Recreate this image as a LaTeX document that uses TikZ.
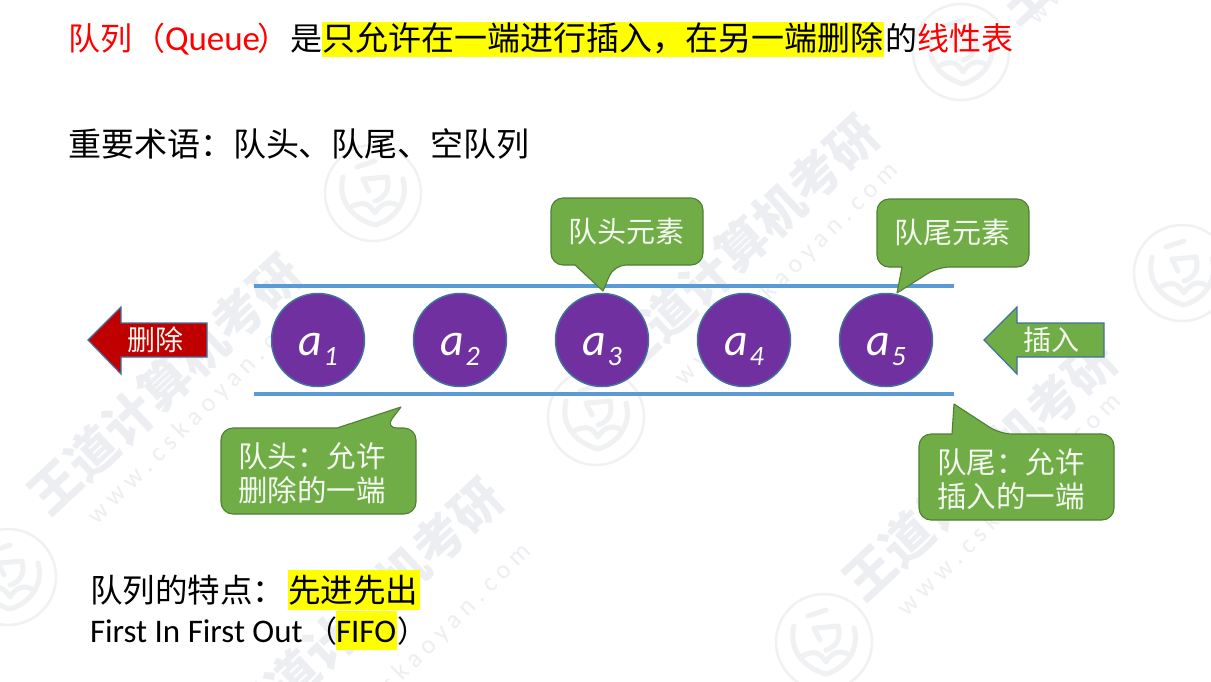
\documentclass[tikz,border=0pt]{standalone}
\usepackage{fontspec}
\setmainfont{Carlito}
\newfontfamily\cjk{Noto Sans CJK SC}
\definecolor{wm}{HTML}{ECEEF1}
\definecolor{wmlight}{HTML}{F0F1F3}
\definecolor{gfill}{HTML}{70AD47}
\definecolor{gline}{HTML}{507E32}
\definecolor{pfill}{HTML}{7030A0}
\definecolor{pline}{HTML}{41719C}
\definecolor{lineblue}{HTML}{5B9BD5}
\definecolor{dred}{HTML}{C00000}
\definecolor{hl}{HTML}{FFFF00}
\definecolor{redtxt}{HTML}{FF0000}
\newcommand{\fs}[1]{\fontsize{#1}{#1}\selectfont}
\newcommand{\qelem}[3]{\node[elem] (#1) at (#2,340) {\smash{\itshape\raisebox{-15pt}{\fs{46}a}\,\raisebox{-25pt}{\fs{28}#3}}};}
\newcommand{\wmtext}[3]{\node[wmbold,rotate=43] (#1) at (#2,#3) {\cjk\bfseries 王道计算机考研};}
\newcommand{\wmurl}[3]{\node[wmurlstyle,rotate=45] (#1) at (#2,#3) {w w w . c s k a o y a n . c o m};}
\newcommand{\wmseal}[3]{%
  \node[wmring] (#1) at (#2,#3) {};
  \begin{scope}[shift={(#2,#3)}]
    \draw[wmstroke] (-30,-16) .. controls (-36,8) and (-20,26) .. (2,32) .. controls (22,26) and (36,8) .. (30,-14);
    \draw[wmstroke] (-22,14) .. controls (-10,8) and (-4,10) .. (2,20) .. controls (8,10) and (16,8) .. (24,12);
    \draw[wmstroke] (-16,-26) -- (2,-32) (-10,-14) -- (-4,-2) (-8,-14) -- (14,-16) .. controls (18,-2) and (10,6) .. (2,8);
  \end{scope}}
\newcommand{\calloutshape}[8]{\draw[callout] [rounded corners=12pt] (#5,#3) -- (#1,#3) -- (#1,#4) -- (#2,#4) -- (#2,#3) -- (#6,#3) [sharp corners] -- (#7,#8) -- cycle;}
\tikzset{
  x=1pt,y=-1pt,
  txt/.style={anchor=base west,inner sep=0pt,outer sep=0pt},
  elem/.style={circle,fill=pfill,draw=pline,line width=1.5pt,minimum size=93pt,inner sep=0pt,text=white},
  rail/.style={lineblue,line width=4.5pt},
  callout/.style={fill=gfill,draw=gline,line width=1.1pt,line join=round},
  ctext/.style={txt,text=white!92!gfill},
  wmbold/.style={text=wm,inner sep=0pt,font=\fontsize{50}{50}\selectfont},
  wmurlstyle/.style={text=wm,inner sep=0pt,font=\fontsize{26}{26}\selectfont},
  wmring/.style={circle,draw=wmlight,line width=2.5pt,inner sep=0pt,minimum size=96pt},
  wmstroke/.style={wmlight,line width=5pt,line cap=round,line join=round},
  block/.style={line width=1.2pt,line join=miter},
  hlbox/.style={fill=hl,draw=none},
}
\begin{document}
\begin{tikzpicture}
\useasboundingbox (0,0) rectangle (1211,681);
\fill[white] (0,0) rectangle (1211,681);
% watermark
\wmseal{s1}{373}{193}
\wmseal{s2}{961}{52}
\wmseal{s3}{1182}{273}
\wmseal{s4}{596}{417}
\wmseal{s5}{8}{577}
\wmseal{s6}{824}{642}
\wmtext{w1}{165}{384}
\wmtext{w2}{366}{608}
\wmtext{w3}{742}{245}
\wmtext{w4}{980}{470}
\wmtext{w5}{1133}{-106}
\wmurl{u1}{200}{413}
\wmurl{u2}{420}{655}
\wmurl{u3}{787}{274}
\wmurl{u4}{1010}{505}
\wmurl{u5}{1140}{-87}
% highlights
\fill[hlbox] (322,22) rectangle (884,57);
\fill[hlbox] (288,570) rectangle (420,610);
\fill[hlbox] (336,611) rectangle (397,650);
% title
\node[txt,text=redtxt] (t1) at (68,50) {\cjk\fs{32}队列};
\node[txt,text=redtxt] (t2) at (133,50) {\cjk\fs{32}（};
\node[txt,text=redtxt] (t3) at (165,50) {\fs{35}Queue};
\node[txt,text=redtxt] (t4) at (257,50) {\cjk\fs{32}）};
\node[txt] (t5) at (290,50) {\cjk\fs{32}是};
\node[txt] (t6) at (322,50) {\cjk\fs{33}只允许在一端进行插入，在另一端删除};
\node[txt] (t7) at (885,50) {\cjk\fs{32}的};
\node[txt,text=redtxt] (t8) at (917,50) {\cjk\fs{32}线性表};
\node[txt] (terms) at (68,156) {\cjk\fs{33}重要术语：队头、队尾、空队列};
% rails
\coordinate (r1a) at (254,286); \coordinate (r1b) at (954,286);
\coordinate (r2a) at (254,394); \coordinate (r2b) at (954,394);
\draw[rail] (r1a) -- (r1b);
\draw[rail] (r2a) -- (r2b);
% elements
\qelem{a1}{318}{1}
\qelem{a2}{460}{2}
\qelem{a3}{602}{3}
\qelem{a4}{744}{4}
\qelem{a5}{886}{5}
% arrows
\draw[block,fill=dred,draw=pline] (88,340) -- (121,307) -- (121,323) -- (207,323) -- (207,357) -- (121,357) -- (121,374) -- cycle;
\node[ctext] (del) at (127,350) {\cjk\fs{28}删除};
\draw[block,fill=gfill,draw=pline] (984,340) -- (1017,307) -- (1017,323) -- (1104,323) -- (1104,357) -- (1017,357) -- (1017,374) -- cycle;
\node[ctext] (ins) at (1023,350) {\cjk\fs{28}插入};
% callouts
\calloutshape{551}{703}{265}{198}{575}{614}{603}{291}
\node[ctext] (c1) at (568,242) {\cjk\fs{29}队头元素};
\calloutshape{877}{1029}{267}{199}{902}{938}{897}{293}
\node[ctext] (c2) at (894,243) {\cjk\fs{29}队尾元素};
\calloutshape{221}{416}{428}{514}{337}{385}{401}{407}
\node[ctext] (c3a) at (238,467) {\cjk\fs{29.5}队头：允许};
\node[ctext] (c3b) at (238,501) {\cjk\fs{29.5}删除的一端};
\calloutshape{919}{1114}{434}{520}{952}{1000}{954}{404}
\node[ctext] (c4a) at (937,473) {\cjk\fs{29.5}队尾：允许};
\node[ctext] (c4b) at (937,507) {\cjk\fs{29.5}插入的一端};
% bottom text
\node[txt] (b1) at (90,602) {\cjk\fs{32.5}队列的特点：};
\node[txt] (b2) at (288,602) {\cjk\fs{32.5}先进先出};
\node[txt] (b3) at (90,642) {\fs{33}First In First Out};
\node[txt] (b4) at (307,642) {\cjk\fs{30}（};
\node[txt] (b5) at (336,642) {\fs{33}FIFO};
\node[txt] (b6) at (397,642) {\cjk\fs{30}）};
\end{tikzpicture}
\end{document}
